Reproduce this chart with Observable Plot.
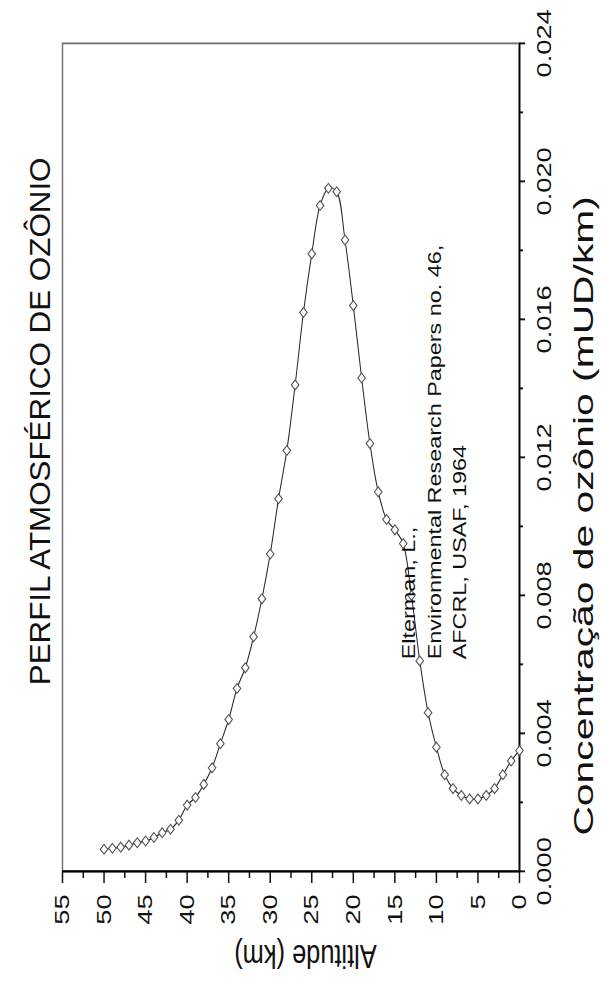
<!DOCTYPE html>
<html><head><meta charset="utf-8">
<script src="https://cdn.jsdelivr.net/npm/d3@7"></script>
<script src="https://cdn.jsdelivr.net/npm/@observablehq/plot@0.6"></script>
<style>
html,body{margin:0;padding:0;background:#fff;overflow:hidden;width:601px;height:987px;}
#wrap{position:absolute;left:0;top:0;transform-origin:0 0;}
#wrap svg{max-width:none !important;}
</style></head><body><div id="wrap"></div>
<script>
const altitude = [0,1,2,3,4,5,6,7,8,9,10,11,12,13,14,15,16,17,18,19,20,21,22,23,24,25,26,27,28,29,30,31,32,33,34,35,36,37,38,39,40,41,42,43,44,45,46,47,48,49,50];
const ozone = [0.0035,0.0032,0.0028,0.0024,0.0022,0.0021,0.0021,0.0022,0.0024,0.0028,
  0.0036,0.0046,0.0061,0.0080,0.0095,0.0099,0.0102,0.0110,0.0124,0.0143,
  0.0164,0.0183,0.0197,0.0198,0.0193,0.0179,0.0162,0.0141,0.0122,0.0108,
  0.0092,0.0079,0.0068,0.0059,0.0053,0.0044,0.0037,0.0030,0.00252,0.00214,
  0.00192,0.00148,0.00122,0.00112,0.00098,0.00088,0.00083,0.00076,0.00070,0.00067,0.00064];
const concTicks = [0,0.004,0.008,0.012,0.016,0.020,0.024];
const concMinor = [0.002,0.006,0.010,0.014,0.018,0.022];
const altTicks = [0,5,10,15,20,25,30,35,40,45,50,55];
const altMinor = [2.5,7.5,12.5,17.5,22.5,27.5,32.5,37.5,42.5,47.5,52.5];
const titleText = "PERFIL ATMOSFÉRICO DE OZÔNIO";
const xLabel = "Concentração de ozônio (mUD/km)";
const yLabel = "Altitude (km)";
const noteText = "Elterman, L.,\nEnvironmental Research Papers no. 46,\nAFCRL, USAF, 1964";

const data = altitude.map((a, i) => ({a, c: ozone[i]}));
const s = 1.3;
const W = 987 / s;
const font = "'Liberation Sans', Arial, Helvetica, sans-serif";

const chart = Plot.plot({
  width: W, height: 601,
  marginLeft: 115 / s, marginRight: 44 / s, marginTop: 62, marginBottom: 82,
  x: {domain: [0, 0.024]},
  y: {domain: [0, 55]},
  style: {fontFamily: font, fontSize: "21px", color: "#111", background: "#fff", overflow: "visible", maxWidth: "none"},
  marks: [
    Plot.frame({stroke: "#777", strokeWidth: 1.5}),
    Plot.axisX({ticks: concMinor, tickSize: 4, tickFormat: () => "", label: null, strokeWidth: 1.5}),
    Plot.axisX({ticks: concTicks, tickSize: 6, tickPadding: 11, tickFormat: d3.format(".3f"), label: null, fontSize: 21, strokeWidth: 1.5}),
    Plot.axisY({ticks: altMinor, tickSize: 6 / s, tickFormat: () => "", label: null, strokeWidth: 1.5}),
    Plot.axisY({ticks: altTicks, tickSize: 11 / s, tickPadding: 12 / s, tickFormat: d3.format("d"), label: null, fontSize: 21, strokeWidth: 1.5}),
    Plot.ruleY([0], {stroke: "#000", strokeWidth: 1.8}),
    Plot.ruleX([0], {stroke: "#000", strokeWidth: 1.8}),
    Plot.line(data, {x: "c", y: "a", curve: "catmull-rom", stroke: "#222", strokeWidth: 1}),
    Plot.dot(data, {x: "c", y: "a", symbol: "diamond2", r: 3.4, stroke: "#555", fill: "#fff", strokeWidth: 1}),
    Plot.text([noteText], {text: d => d, frameAnchor: "bottom-left", textAnchor: "start", lineAnchor: "bottom", dx: (327 - 115) / s, dy: -53, fontSize: 18, lineHeight: 1.42, fill: "#111"}),
    Plot.text([titleText], {text: d => d, frameAnchor: "top", textAnchor: "middle", lineAnchor: "bottom", dy: -12, dx: 36 / s, fontSize: 29, fill: "#111"}),
    Plot.text([yLabel], {text: d => d, frameAnchor: "left", textAnchor: "middle", rotate: -90, lineAnchor: "middle", dx: -(115 - 31) / s, dy: 14.5, fontSize: 25.4, fill: "#111"}),
    Plot.text([xLabel], {text: d => d, frameAnchor: "bottom", textAnchor: "middle", lineAnchor: "middle", dy: 65, dx: -58.5 / s, fontSize: 27, fill: "#111"})
  ]
});

// horizontal stretch of single texts around their anchor
function stretchText(str, k) {
  chart.querySelectorAll("text").forEach(t => {
    if (t.textContent !== str) return;
    const tr = t.getAttribute("transform");
    if (tr) {
      t.setAttribute("transform", tr + ` scale(${k},1)`);
    } else {
      const x = +t.getAttribute("x") || 0, y = +t.getAttribute("y") || 0;
      t.setAttribute("transform", `translate(${x},${y}) scale(${k},1) translate(${-x},${-y})`);
    }
  });
}
stretchText(titleText, 0.832);
stretchText(xLabel, 1.163);

const wrap = document.getElementById("wrap");
wrap.style.width = W + "px";
wrap.appendChild(chart);
wrap.style.transform = `translate(0px, 987px) rotate(-90deg) scale(${s}, 1)`;
</script>
</body></html>
